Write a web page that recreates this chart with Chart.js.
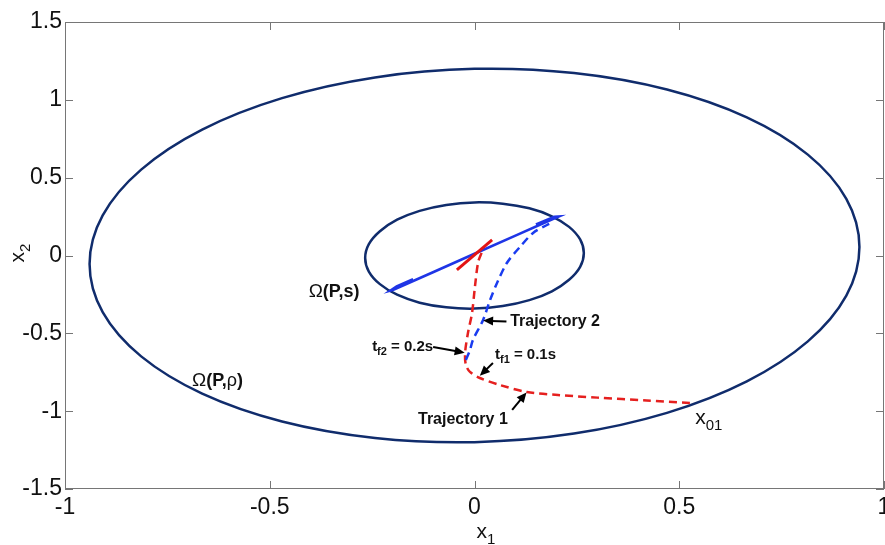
<!DOCTYPE html>
<html>
<head>
<meta charset="utf-8">
<title>Phase plane trajectories</title>
<script src="https://cdn.jsdelivr.net/npm/chart.js@4.4.0/dist/chart.umd.min.js"></script>
<style>
    html, body { margin: 0; padding: 0; background: #fff; }
    #wrap { width: 885px; height: 545px; position: relative; }
</style>
</head>
<body>
<div id="wrap"><canvas id="phaseChart"></canvas></div>
<script>
// Outer level set Omega(P, rho), traced from the top (closed by the line element)
const outerX = [0.000, -0.243, -0.470, -0.665, -0.814, -0.908, -0.940, -0.908, -0.814, -0.665, -0.470, -0.243, 0.000,
                0.243, 0.470, 0.665, 0.814, 0.908, 0.940, 0.908, 0.814, 0.665, 0.470, 0.243];
const outerY = [1.199, 1.144, 1.011, 0.809, 0.552, 0.258, -0.055, -0.364, -0.648, -0.887, -1.066, -1.172, -1.199,
                -1.144, -1.011, -0.809, -0.552, -0.258, 0.055, 0.364, 0.648, 0.887, 1.066, 1.172];

// Inner level set Omega(P, s), traced from the top
const innerX = [0.000, -0.069, -0.134, -0.189, -0.231, -0.258, -0.267, -0.258, -0.231, -0.189, -0.134, -0.069, 0.000,
                0.069, 0.134, 0.189, 0.231, 0.258, 0.267, 0.258, 0.231, 0.189, 0.134, 0.069];
const innerY = [0.341, 0.325, 0.287, 0.230, 0.156, 0.073, -0.016, -0.103, -0.184, -0.252, -0.303, -0.333, -0.341,
                -0.325, -0.287, -0.230, -0.156, -0.073, 0.016, 0.103, 0.184, 0.252, 0.303, 0.333];

// Sliding motion (blue, solid)
const slideX = [0.150, 0.195, 0.205, 0.190, 0.100, 0.000, -0.100, -0.198, -0.205, -0.190, -0.150];
const slideY = [0.200, 0.248, 0.250, 0.233, 0.128, 0.011, -0.106, -0.220, -0.225, -0.198, -0.152];

// Switching line (red, solid)
const switchX = [-0.043, 0.043];
const switchY = [-0.093, 0.100];

// Trajectory 1 from x01 (red, dashed)
const traj1X = [0.526, 0.420, 0.300, 0.204, 0.128, 0.062, 0.013, -0.011, -0.021, -0.023, -0.016, -0.006, 0.001, 0.009, 0.018];
const traj1Y = [-0.947, -0.931, -0.913, -0.896, -0.877, -0.832, -0.787, -0.748, -0.703, -0.626, -0.498, -0.369, -0.202, -0.042, 0.022];

// Trajectory 2 (blue, dashed)
const traj2X = [-0.021, -0.011, -0.004, 0.021, 0.038, 0.055, 0.079, 0.111, 0.143, 0.177, 0.192];
const traj2Y = [-0.671, -0.607, -0.543, -0.414, -0.286, -0.177, -0.048, 0.055, 0.145, 0.196, 0.215];

// Axis ranges and ticks
const xRange = [-1, 1];
const yRange = [-1.5, 1.5];
const tickStep = 0.5;

const FONT = '"Liberation Sans", Arial, Helvetica, sans-serif';

function toPoints(xs, ys) {
    return xs.map((x, i) => ({ x: x, y: ys[i] }));
}

// Text annotations, anchored in data coordinates (left edge, vertical middle)
const notes = [
    { at: [-0.405, -0.234], parts: [['\u03A9', '19px ' + FONT, 0], ['(P,s)', 'bold 18px ' + FONT, 0]] },
    { at: [-0.690, -0.806], parts: [['\u03A9', '19px ' + FONT, 0], ['(P,', 'bold 18px ' + FONT, 0], ['\u03C1', '18px ' + FONT, 0], [')', 'bold 18px ' + FONT, 0]] },
    { at: [0.087, -0.427], parts: [['Trajectory 2', 'bold 16px ' + FONT, 0]] },
    { at: [-0.250, -0.588], parts: [['t', 'bold 15px ' + FONT, 0], ['f2', 'bold 11px ' + FONT, 5], [' = 0.2s', 'bold 15px ' + FONT, 0]] },
    { at: [0.050, -0.639], parts: [['t', 'bold 15px ' + FONT, 0], ['f1', 'bold 11px ' + FONT, 5], [' = 0.1s', 'bold 15px ' + FONT, 0]] },
    { at: [-0.138, -1.057], parts: [['Trajectory 1', 'bold 16px ' + FONT, 0]] },
    { at: [0.539, -1.044], parts: [['x', '21px ' + FONT, 0], ['01', '15px ' + FONT, 8]] }
];

// Pointer arrows: tail -> head
const pointers = [
    { from: [0.078, -0.424], to: [0.021, -0.418] },
    { from: [-0.101, -0.588], to: [-0.024, -0.624] },
    { from: [0.045, -0.691], to: [0.013, -0.772] },
    { from: [0.092, -0.992], to: [0.127, -0.880] }
];

function drawParts(ctx, x, y, parts) {
    ctx.textAlign = 'left';
    ctx.textBaseline = 'middle';
    parts.forEach(([text, font, dy]) => {
        ctx.font = font;
        ctx.fillText(text, x, y + dy);
        x += ctx.measureText(text).width;
    });
}

function drawArrow(ctx, x0, y0, x1, y1) {
    const ang = Math.atan2(y1 - y0, x1 - x0);
    const len = 10, half = 4.5;
    ctx.beginPath();
    ctx.moveTo(x0, y0);
    ctx.lineTo(x1 - Math.cos(ang) * len * 0.8, y1 - Math.sin(ang) * len * 0.8);
    ctx.stroke();
    ctx.beginPath();
    ctx.moveTo(x1, y1);
    ctx.lineTo(x1 - Math.cos(ang) * len + Math.sin(ang) * half, y1 - Math.sin(ang) * len - Math.cos(ang) * half);
    ctx.lineTo(x1 - Math.cos(ang) * len - Math.sin(ang) * half, y1 - Math.sin(ang) * len + Math.cos(ang) * half);
    ctx.closePath();
    ctx.fill();
}

// Let the ellipse datasets join back to their first point smoothly (same flags the radar chart uses)
const closedCurves = {
    id: 'closedCurves',
    afterDatasetsUpdate(chart) {
        chart.data.datasets.forEach((ds, i) => {
            if (ds.closed) {
                const line = chart.getDatasetMeta(i).dataset;
                line._loop = true;
                line._fullLoop = true;
                line._pointsUpdated = false;
                line._segments = undefined;
                line._path = undefined;
            }
        });
    }
};

// Box with inward ticks, axis titles with subscripts, labels and arrows
const overlayPlugin = {
    id: 'overlay',
    afterDraw(chart) {
        const { ctx, chartArea: a, scales: { x, y } } = chart;
        ctx.save();

        ctx.strokeStyle = '#767676';
        ctx.lineWidth = 1;
        ctx.strokeRect(a.left + 0.5, a.top + 0.5, a.right - a.left - 1, a.bottom - a.top - 1);
        ctx.beginPath();
        x.ticks.forEach(t => {
            const px = Math.round(x.getPixelForValue(t.value)) + 0.5;
            ctx.moveTo(px, a.bottom); ctx.lineTo(px, a.bottom - 8);
            ctx.moveTo(px, a.top); ctx.lineTo(px, a.top + 8);
        });
        y.ticks.forEach(t => {
            const py = Math.round(y.getPixelForValue(t.value)) + 0.5;
            ctx.moveTo(a.left, py); ctx.lineTo(a.left + 8, py);
            ctx.moveTo(a.right, py); ctx.lineTo(a.right - 8, py);
        });
        ctx.stroke();

        ctx.fillStyle = '#111';
        const cx = (a.left + a.right) / 2;
        drawParts(ctx, cx + 2, a.bottom + 43, [['x', '21px ' + FONT, 0], ['1', '15px ' + FONT, 8]]);

        ctx.save();
        ctx.translate(18, (a.top + a.bottom) / 2 + 7);
        ctx.rotate(-Math.PI / 2);
        drawParts(ctx, 0, 0, [['x', '21px ' + FONT, 0], ['2', '15px ' + FONT, 8]]);
        ctx.restore();

        notes.forEach(n => {
            drawParts(ctx, x.getPixelForValue(n.at[0]), y.getPixelForValue(n.at[1]), n.parts);
        });

        ctx.strokeStyle = '#000';
        ctx.fillStyle = '#000';
        ctx.lineWidth = 2;
        pointers.forEach(p => {
            drawArrow(ctx,
                x.getPixelForValue(p.from[0]), y.getPixelForValue(p.from[1]),
                x.getPixelForValue(p.to[0]), y.getPixelForValue(p.to[1]));
        });
        ctx.restore();
    }
};

const tickLabel = value => String(value);

const ctx = document.getElementById('phaseChart').getContext('2d');
new Chart(ctx, {
    type: 'scatter',
    data: {
        datasets: [
            {
                label: 'switching line',
                data: toPoints(switchX, switchY),
                showLine: true, borderColor: '#e31414', borderWidth: 3, pointRadius: 0, tension: 0
            },
            {
                label: 'Trajectory 2',
                data: toPoints(traj2X, traj2Y),
                showLine: true, borderColor: '#1a3cf0', borderWidth: 2.5, borderDash: [8, 5],
                pointRadius: 0, tension: 0.3
            },
            {
                label: 'Trajectory 1',
                data: toPoints(traj1X, traj1Y),
                showLine: true, borderColor: '#e5201f', borderWidth: 2.5, borderDash: [8, 5],
                pointRadius: 0, tension: 0.3
            },
            {
                label: 'sliding motion',
                data: toPoints(slideX, slideY),
                showLine: true, borderColor: '#1f35e6', borderWidth: 2.6, pointRadius: 0, tension: 0
            },
            {
                label: 'Omega(P,s)',
                data: toPoints(innerX, innerY), closed: true,
                showLine: true, borderColor: '#102c6c', borderWidth: 2.5, pointRadius: 0, tension: 0.333
            },
            {
                label: 'Omega(P,rho)',
                data: toPoints(outerX, outerY), closed: true,
                showLine: true, borderColor: '#102c6c', borderWidth: 2.5, pointRadius: 0, tension: 0.333
            }
        ]
    },
    options: {
        responsive: true,
        maintainAspectRatio: false,
        animation: false,
        devicePixelRatio: 1,
        layout: { padding: { top: 22, right: 1, left: 0, bottom: 0 } },
        plugins: {
            legend: { display: false },
            tooltip: { enabled: false }
        },
        scales: {
            x: {
                type: 'linear',
                min: xRange[0], max: xRange[1],
                ticks: { stepSize: tickStep, color: '#111', padding: 5, font: { family: FONT, size: 23 }, maxRotation: 0, callback: tickLabel },
                grid: { drawOnChartArea: false, drawTicks: false },
                border: { display: false },
                afterFit(scale) {
                    scale.height = 56;
                    scale.paddingLeft = 0;
                    scale.paddingRight = 0;
                }
            },
            y: {
                type: 'linear',
                min: yRange[0], max: yRange[1],
                ticks: { stepSize: tickStep, color: '#111', padding: 3, font: { family: FONT, size: 23 }, callback: tickLabel },
                grid: { drawOnChartArea: false, drawTicks: false },
                border: { display: false },
                afterFit(scale) {
                    scale.width = 65;
                    scale.paddingTop = 0;
                    scale.paddingBottom = 0;
                }
            }
        }
    },
    plugins: [closedCurves, overlayPlugin]
});
</script>
</body>
</html>
